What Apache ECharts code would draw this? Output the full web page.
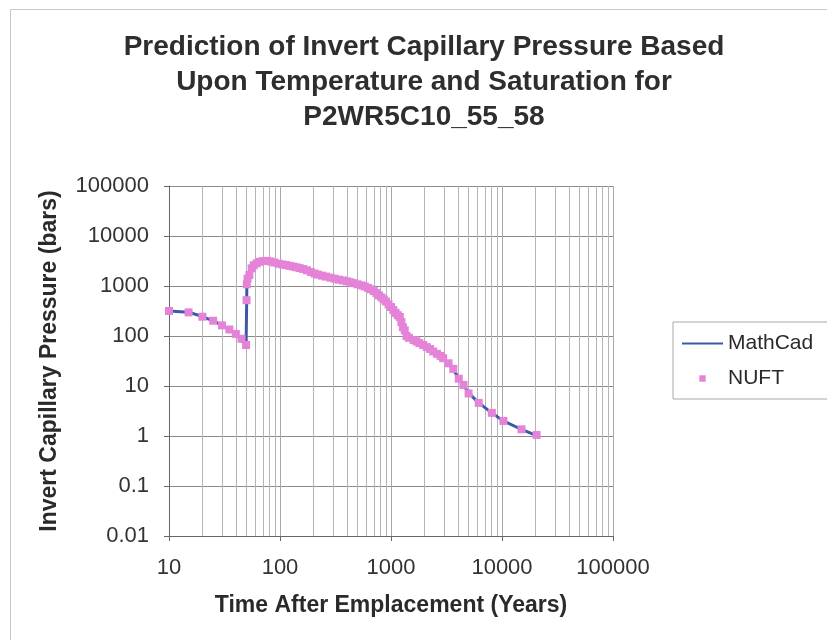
<!DOCTYPE html>
<html>
<head>
<meta charset="utf-8">
<script src="https://cdn.jsdelivr.net/npm/echarts@6/dist/echarts.min.js"></script>
<style>
  html, body { margin: 0; padding: 0; background: #ffffff; }
  #chart { width: 827px; height: 640px; }
</style>
</head>
<body>
<div id="chart"></div>
<script>
// Axis ticks (decades)
const xTicks = [10, 100, 1000, 10000, 100000];
const yTicks = [0.01, 0.1, 1, 10, 100, 1000, 10000, 100000];

// MathCad prediction (years, bars)
const mathcadYears = [10, 15, 20, 25, 30, 40, 49.5, 50, 50.1, 50.3, 53, 56, 60, 66, 72, 80, 90, 100,
  130, 160, 200, 250, 300, 400, 500, 600, 700, 800, 900, 1000, 1100, 1200, 1300, 1400, 1600,
  2000, 2500, 3000, 3300, 3640, 4080, 4500, 5000, 6170, 8100, 10300, 15000, 20500];
const mathcadPressure = [316, 300, 245, 200, 165, 110, 64, 64, 500, 1100, 1700, 2300, 2750, 3050, 3170, 3120, 2950, 2780,
  2450, 2180, 1800, 1560, 1420, 1240, 1080, 950, 790, 620, 490, 380, 290, 235, 150, 100, 83,
  64, 48, 35, 28, 21, 14.5, 10.5, 7.3, 4.6, 2.9, 2.0, 1.35, 1.02];

// NUFT simulation output (years, bars)
const nuftYears = [10, 15, 20, 25, 30, 35, 40, 45, 49.5, 50, 50.2, 51, 53, 55.6, 58, 61.7, 66, 70.7, 76, 82,
  89, 97, 105, 113, 122, 131, 140, 150, 162, 175, 190, 205, 220, 240, 260, 285, 310, 340, 370, 400,
  430, 460, 500, 540, 580, 620, 660, 700, 740, 780, 820, 860, 900, 950, 1000, 1050, 1100, 1150, 1200,
  1240, 1280, 1330, 1380, 1450, 1600, 1700, 1800, 1950, 2100, 2250, 2400, 2600, 2800, 2950, 3300,
  3640, 4080, 4500, 5000, 6170, 8100, 10300, 15000, 20500];
const nuftPressure = [316, 297, 243, 202, 163, 135, 110, 88, 66, 520, 1080, 1400, 1660, 2250, 2600, 2840, 3050, 3160, 3180, 3100,
  2950, 2800, 2700, 2620, 2530, 2450, 2370, 2280, 2180, 2060, 1900, 1780, 1690, 1610, 1540, 1470, 1400, 1340, 1290, 1240,
  1190, 1140, 1080, 1030, 980, 920, 860, 790, 720, 650, 590, 540, 490, 430, 380, 330, 290, 260, 240,
  190, 150, 130, 100, 92, 83, 78, 72, 66, 60, 55, 49, 44, 40, 36, 28.5,
  22, 14, 10.5, 7.1, 4.6, 2.9, 2.0, 1.36, 1.05];

const zip = (xs, ys) => xs.map((x, i) => [x, ys[i]]);

// Plain decimal tick text (no thousands separators)
const plainNumber = (v) => String(Number(Number(v).toPrecision(6)));

const chart = echarts.init(document.getElementById('chart'), null, { renderer: 'canvas' });

const fontFamily = '"Liberation Sans", Arial, sans-serif';

chart.setOption({
  backgroundColor: '#ffffff',
  animation: false,
  graphic: [{
    type: 'rect',
    shape: { x: 10.5, y: 9.5, width: 830, height: 640 },
    style: { fill: 'none', stroke: '#c8c8c8', lineWidth: 1 },
    z: -1
  }],
  title: {
    text: 'Prediction of Invert Capillary Pressure Based\nUpon Temperature and Saturation for\nP2WR5C10_55_58',
    left: 424,
    top: 30,
    textAlign: 'center',
    padding: 0,
    textStyle: {
      fontFamily: fontFamily,
      fontSize: 28,
      fontWeight: 'bold',
      color: '#2e2e2e',
      lineHeight: 35
    }
  },
  legend: {
    orient: 'vertical',
    left: 673,
    top: 322,
    padding: [11, 20, 10, 8],
    itemWidth: 41,
    itemHeight: 8,
    itemGap: 14,
    borderColor: '#a8a8a8',
    borderWidth: 1,
    textStyle: { fontFamily: fontFamily, fontSize: 21, color: '#2a2a2a' },
    data: [
      { name: 'MathCad', itemStyle: { opacity: 0 } },
      { name: 'NUFT' }
    ]
  },
  grid: {
    left: 169,
    right: 214,
    top: 186,
    bottom: 104,
    containLabel: false
  },
  xAxis: {
    type: 'log',
    logBase: 10,
    min: xTicks[0],
    max: xTicks[xTicks.length - 1],
    name: 'Time After Emplacement (Years)',
    nameLocation: 'middle',
    nameGap: 58,
    nameTextStyle: { fontFamily: fontFamily, fontSize: 23, fontWeight: 'bold', color: '#2a2a2a' },
    axisLine: { lineStyle: { color: '#666666', width: 1 } },
    axisTick: { show: true, length: 5, lineStyle: { color: '#666666' } },
    axisLabel: { fontFamily: fontFamily, fontSize: 22, color: '#333333', margin: 21, formatter: plainNumber },
    splitLine: { show: true, lineStyle: { color: '#a8a8a8', width: 1 } },
    minorTick: { show: false, splitNumber: 9 },
    minorSplitLine: { show: true, lineStyle: { color: '#b4b4b4', width: 1 } }
  },
  yAxis: {
    type: 'log',
    logBase: 10,
    min: yTicks[0],
    max: yTicks[yTicks.length - 1],
    name: 'Invert Capillary Pressure (bars)',
    nameLocation: 'middle',
    nameGap: 108,
    nameTextStyle: { fontFamily: fontFamily, fontSize: 23, fontWeight: 'bold', color: '#2a2a2a' },
    axisLine: { show: true, lineStyle: { color: '#666666', width: 1 } },
    axisTick: { show: true, length: 5, lineStyle: { color: '#666666' } },
    axisLabel: { fontFamily: fontFamily, fontSize: 22, color: '#333333', margin: 20, formatter: plainNumber },
    splitLine: { show: true, lineStyle: { color: '#8a8a8a', width: 1 } }
  },
  series: [
    {
      name: 'MathCad',
      type: 'line',
      data: zip(mathcadYears, mathcadPressure),
      showSymbol: false,
      symbol: 'none',
      lineStyle: { color: '#3a5aa8', width: 3 },
      itemStyle: { color: '#3a5aa8' },
      z: 2
    },
    {
      name: 'NUFT',
      type: 'line',
      data: zip(nuftYears, nuftPressure),
      symbol: 'rect',
      symbolSize: 8,
      showSymbol: true,
      showAllSymbol: true,
      lineStyle: { width: 0, opacity: 0 },
      itemStyle: { color: '#e583d8' },
      z: 3
    }
  ]
});
</script>
</body>
</html>
